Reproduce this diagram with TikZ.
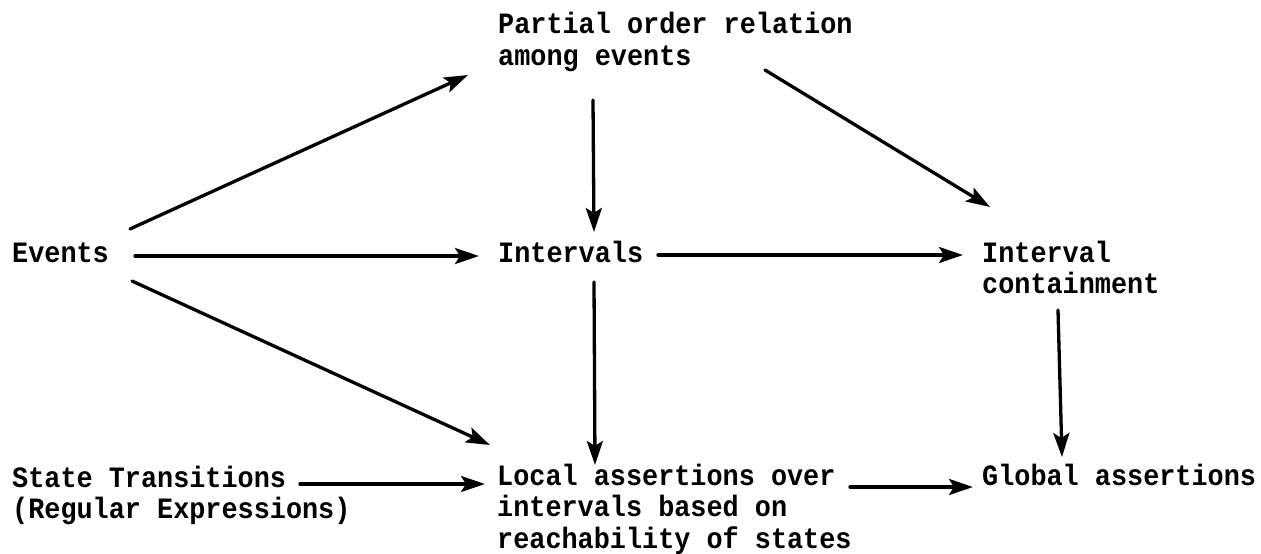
\documentclass[tikz,border=0pt]{standalone}
\usepackage{fontspec}
\newfontfamily\tw[FakeStretch=0.91]{Liberation Mono}
\usetikzlibrary{arrows.meta,calc}
\newcommand\lines[1]{\begin{tabular}[t]{@{}l@{}}#1\end{tabular}}
\begin{document}
\begin{tikzpicture}[x=1pt,y=-1pt,
  txt/.style={anchor=base west,inner sep=0pt,font=\tw\bfseries\fontsize{29.5}{31.5}\selectfont},
  arr/.style={line width=3.3pt,line cap=round,-{Stealth[length=24pt,width=16pt,inset=5pt]}}]
\path[use as bounding box,fill=white] (0,0) rectangle (1261,554);
\node[txt] (partial) at (498,34) {\lines{Partial order relation\\among events}};
\node[txt] (events) at (12,262) {Events};
\node[txt] (intervals) at (498,262) {Intervals};
\node[txt] (contain) at (982,262) {\lines{Interval\\containment}};
\node[txt] (state) at (12,487) {\lines{State Transitions\\(Regular Expressions)}};
\node[txt] (local) at (497,485) {\lines{Local assertions over\\intervals based on\\reachability of states}};
\node[txt] (global) at (982,485) {Global assertions};
\draw[arr] ($(events.base west)+(118,-33)$) -- ($(partial.base west)+(-30,41)$);
\draw[arr] ($(events.base west)+(123,-6)$) -- ($(intervals.base west)+(-19,-6)$);
\draw[arr] ($(events.base west)+(120,19)$) -- ($(local.base west)+(-7,-40)$);
\draw[arr] ($(partial.base west)+(95,66)$) -- ($(intervals.base west)+(96,-30)$);
\draw[arr] ($(partial.base west)+(267,36)$) -- ($(contain.base west)+(8,-55)$);
\draw[arr] ($(intervals.base west)+(160,-7)$) -- ($(contain.base west)+(-19,-7)$);
\draw[arr] ($(intervals.base west)+(96,20)$) -- ($(local.base west)+(98,-20)$);
\draw[arr] ($(contain.base west)+(76,48)$) -- ($(global.base west)+(80,-28)$);
\draw[arr] ($(state.base west)+(288,-3)$) -- ($(local.base west)+(-12,-1)$);
\draw[arr] ($(local.base west)+(353,2)$) -- ($(global.base west)+(-9,2)$);
\end{tikzpicture}
\end{document}
